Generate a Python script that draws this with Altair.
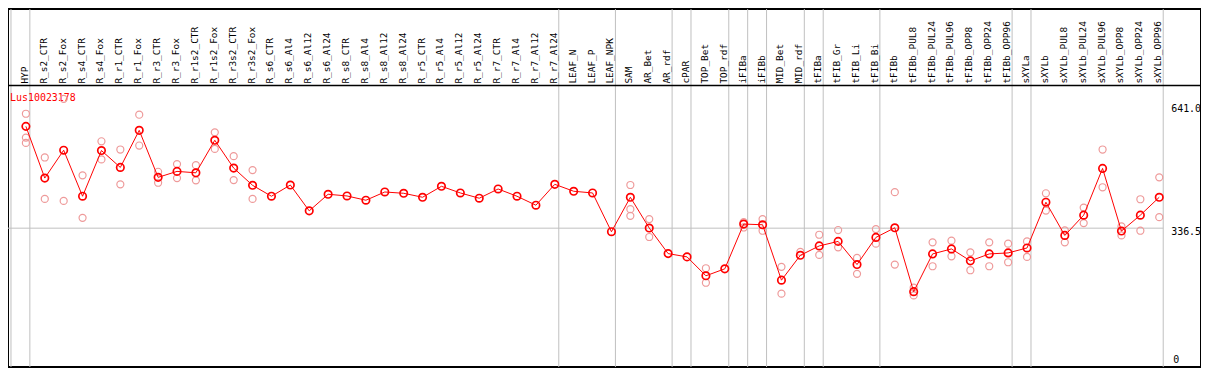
import altair as alt
import pandas as pd

gene = "Lus10023178"

categories = [
    "HYP", "R_s2_CTR", "R_s2_Fox", "R_s4_CTR", "R_s4_Fox", "R_r1_CTR", "R_r1_Fox",
    "R_r3_CTR", "R_r3_Fox", "R_r1s2_CTR", "R_r1s2_Fox", "R_r3s2_CTR", "R_r3s2_Fox",
    "R_s6_CTR", "R_s6_Al4", "R_s6_Al12", "R_s6_Al24", "R_s8_CTR", "R_s8_Al4",
    "R_s8_Al12", "R_s8_Al24", "R_r5_CTR", "R_r5_Al4", "R_r5_Al12", "R_r5_Al24",
    "R_r7_CTR", "R_r7_Al4", "R_r7_Al12", "R_r7_Al24", "LEAF_N", "LEAF_P", "LEAF_NPK",
    "SAM", "AR_Bet", "AR_rdf", "cPAR", "TOP_Bet", "TOP_rdf", "iFIBa", "iFIBb",
    "MID_Bet", "MID_rdf", "tFIBa", "tFIB_Gr", "tFIB_Li", "tFIB_Bi", "tFIBb",
    "tFIBb_PUL8", "tFIBb_PUL24", "tFIBb_PUL96", "tFIBb_OPP8", "tFIBb_OPP24",
    "tFIBb_OPP96", "sXYLa", "sXYLb", "sXYLb_PUL8", "sXYLb_PUL24", "sXYLb_PUL96",
    "sXYLb_OPP8", "sXYLb_OPP24", "sXYLb_OPP96",
]

means = [
    587.5, 460.0, 528.7, 415.2, 527.9, 486.3, 577.7, 461.8, 476.5, 473.0, 553.2,
    484.6, 442.2, 415.2, 442.9, 379.2, 420.1, 415.9, 405.4, 425.7, 422.5, 412.7,
    439.7, 423.3, 410.3, 433.1, 415.2, 393.1, 444.6, 427.5, 423.3, 327.7, 412.7,
    336.8, 273.8, 265.7, 219.1, 236.3, 346.6, 344.9, 208.3, 269.6, 292.7, 303.9,
    246.8, 313.7, 337.5, 179.9, 273.0, 285.3, 255.9, 273.0, 275.5, 287.7, 400.5,
    318.6, 368.6, 483.8, 329.4, 368.6, 412.7,
]

# replicate values (None = hidden behind the mean point)
rep_high = [
    618.6, 510.8, 655.4, 466.7, 550.7, 530.4, 616.2, 475.5, 494.4, 491.9, 572.8,
    514.0, 479.7, None, None, None, None, None, None, None, None, None,
    None, None, None, None, None, None, None, None, None, None, 442.9,
    358.8, None, None, 237.7, None, 351.5, 358.8, 241.2, 277.9, 320.3, 331.9,
    263.2, 334.3, 425.2, 189.7, 301.5, 305.6, 277.0, 301.5, 298.3, 303.9, 422.5,
    330.9, 387.3, 530.4, 340.7, 407.8, 461.8,
]
rep_low = [
    559.8, 408.6, 403.7, 362.0, 505.9, 444.6, 540.2, 448.5, 460.0, 454.4, 531.9,
    455.1, 408.6, None, None, None, None, None, None, None, None, None,
    None, None, None, None, None, None, None, None, None, None, 383.3,
    314.7, None, None, 202.0, None, 338.2, 330.2, 175.0, None, 270.6, 289.2,
    224.0, 298.3, 246.8, 170.8, 242.6, 267.2, 232.8, 242.6, 252.5, 265.7, 379.9,
    301.5, 349.0, 437.3, 318.6, 330.2, 363.7,
]
extra_rep_idx = [0, 32]
extra_rep_val = [546.6, 366.9]

# groups end after these category indices (-1 = before the first)
group_ends = [-1, 0, 28, 31, 34, 35, 37, 38, 39, 41, 42, 45, 52, 53, 60]

ref_value = 336.5
axis_top_labels = ["641.0", "336.5"]
axis_top_values = [641.0, 336.5]
axis_bottom_labels = ["0"]
axis_bottom_values = [0.0]

n = len(categories)
idx = list(range(n))

step = 19.0
W, H = 1200, 360
x_min = -18.0 / step
x_max = x_min + W / step
sep_off = 4.0 / step
y_min, y_max = -5.64, 876.7

xs = alt.Scale(domain=[x_min, x_max], nice=False, zero=False)
ys = alt.Scale(domain=[y_min, y_max], nice=False, zero=False)
mono = "DejaVu Sans Mono"

df_mean = pd.DataFrame({"i": idx, "v": means, "cat": categories})
reps = []
for i in idx:
    for v in (rep_high[i], rep_low[i]):
        if v is not None:
            reps.append({"i": i, "v": v})
for i, v in zip(extra_rep_idx, extra_rep_val):
    reps.append({"i": i, "v": v})
df_rep = pd.DataFrame(reps)
df_sep = pd.DataFrame({"p": [g + sep_off for g in group_ends]})
df_ref = pd.DataFrame({"x": [x_min], "x2": [n - 1 + sep_off], "y": [ref_value]})
df_top = pd.DataFrame({"x": [n - 1] * 2, "v": axis_top_values, "t": axis_top_labels})
df_bot = pd.DataFrame({"x": [n - 1], "v": axis_bottom_values, "t": axis_bottom_labels})
df_title = pd.DataFrame({"t": [gene]})

X = lambda f: alt.X(f, scale=xs, axis=None)
Y = lambda f: alt.Y(f, scale=ys, axis=None)

vsep = alt.Chart(df_sep).mark_rule(color="#c0c0c0", strokeWidth=1).encode(x=X("p:Q"))
hsep = alt.Chart(df_title).mark_rule(color="black", strokeWidth=1.5).encode(y=alt.value(77))
ref = alt.Chart(df_ref).mark_rule(color="#c0c0c0", strokeWidth=1).encode(
    x=X("x:Q"), x2="x2:Q", y=Y("y:Q"))

rep_pts = alt.Chart(df_rep).mark_point(shape="circle", filled=False, color="#ee9a9a",
                                       size=50, strokeWidth=1.2, opacity=1).encode(x=X("i:Q"), y=Y("v:Q"))
line = alt.Chart(df_mean).mark_line(color="red", strokeWidth=1).encode(x=X("i:Q"), y=Y("v:Q"))
mean_pts = alt.Chart(df_mean).mark_point(shape="circle", filled=False, color="red",
                                         size=56, strokeWidth=1.7, opacity=1).encode(x=X("i:Q"), y=Y("v:Q"))

cat_labels = alt.Chart(df_mean).mark_text(
    angle=270, align="left", baseline="middle", font=mono, fontSize=9.5, color="black", xOffset=-1
).encode(x=X("i:Q"), y=alt.value(75), text="cat:N")

top_labels = alt.Chart(df_top).mark_text(
    align="left", baseline="top", font=mono, fontSize=10, color="black", xOffset=12, dy=-1
).encode(x=X("x:Q"), y=Y("v:Q"), text="t:N")
bot_labels = alt.Chart(df_bot).mark_text(
    align="left", baseline="bottom", font=mono, fontSize=10, color="black", xOffset=14
).encode(x=X("x:Q"), y=Y("v:Q"), text="t:N")

title = alt.Chart(df_title).mark_text(
    align="left", baseline="middle", font=mono, fontSize=10, color="red"
).encode(x=alt.value(2), y=alt.value(89), text="t:N")

chart = alt.layer(
    vsep, hsep, ref, title, rep_pts, line, mean_pts,
    cat_labels, top_labels, bot_labels
).properties(
    width=W, height=H, padding=0, autosize=alt.AutoSizeParams(type="none")
).configure_view(stroke="black", strokeWidth=2)

chart.save("out.html", embed_options={"renderer": "svg", "actions": False})
